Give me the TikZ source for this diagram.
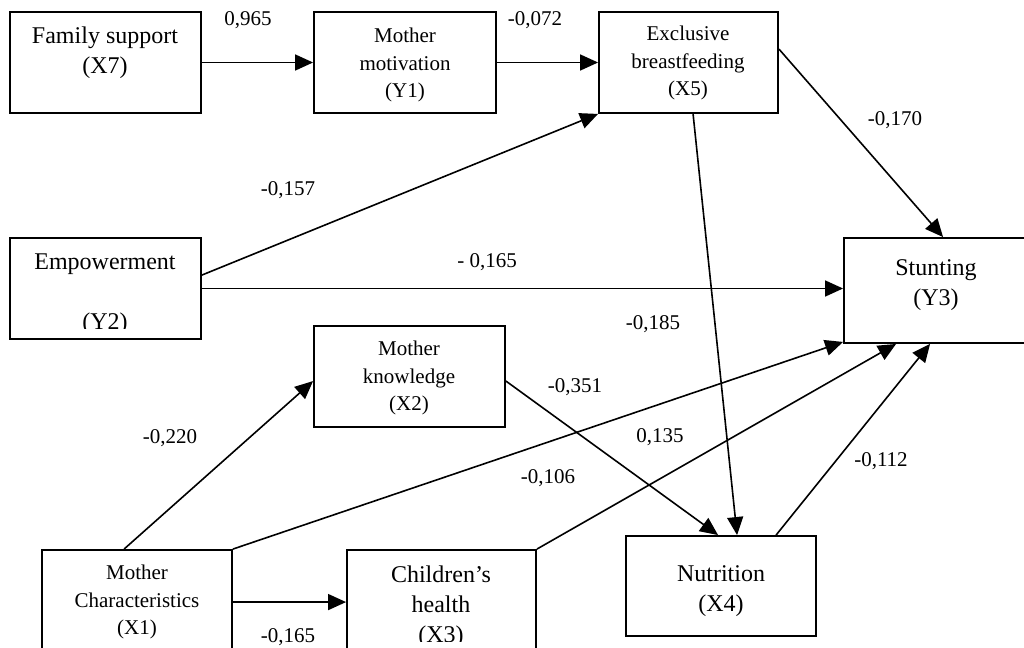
\documentclass[tikz,border=0pt]{standalone}
\usepackage{fontspec}
\setmainfont{Liberation Serif}
\usetikzlibrary{arrows.meta,calc,fit}
\begin{document}
\begin{tikzpicture}[x=0.75pt,y=-0.75pt,
  box/.style={draw,line width=1.4pt,rectangle,inner sep=0pt},
  big/.style={font=\fontsize{18}{22.5}\selectfont,align=center,inner sep=0pt},
  small/.style={font=\fontsize{15.75}{20.6}\selectfont,align=center,inner sep=0pt},
  lab/.style={font=\fontsize{15.75}{19}\selectfont,inner sep=0pt},
  conn/.style={line width=1.2pt,-{Triangle[length=13.5pt,width=12pt]}}]
\useasboundingbox (0,0) rectangle (1024,648);
% boxes
\node[box,fit={(10,12)(201,113)}] (fs) {};
\node[box,fit={(314,12)(496,113)}] (mm) {};
\node[box,fit={(599,12)(778,113)}] (eb) {};
\node[box,fit={(10,238)(201,339)}] (em) {};
\node[box,fit={(844,238)(1030,343)}] (st) {};
\node[box,fit={(314,326)(505,427)}] (mk) {};
\node[box,fit={(42,550)(232,665)}] (mc) {};
\node[box,fit={(347,550)(536,665)}] (ch) {};
\node[box,fit={(626,536)(816,636)}] (nu) {};
% texts
\node[big] (fst) at (105,53) {Family support\\(X7)};
\node[small] (mmt) at (405,65) {Mother\\motivation\\(Y1)};
\node[small] (ebt) at (688,63) {Exclusive\\breastfeeding\\(X5)};
\begin{scope}
  \clip (0,0) rectangle (1024,329);
  \node[big] (emt) at (105,294) {Empowerment\\[22.5pt](Y2)};
\end{scope}
\node[big] (stt) at (936,285) {Stunting\\(Y3)};
\node[small] (mkt) at (409,378) {Mother\\knowledge\\(X2)};
\node[small] (mct) at (137,602) {Mother\\Characteristics\\(X1)};
\begin{scope}
  \clip (0,0) rectangle (1024,641);
  \node[big] (cht) at (441,607) {Children’s\\health\\(X3)};
\end{scope}
\node[big] (nut) at (721,591) {Nutrition\\(X4)};
% connectors
\draw[conn] (fs.east) -- (mm.west);
\draw[conn] (mm.east) -- (eb.west);
\draw[conn] ($(em.north east)+(0,38)$) -- (eb.south west);
\draw[conn] (em.east) -- (em.east -| st.west);
\draw[conn] ($(eb.north east)+(0,38)$) -- ($(st.north west)+(100,0)$);
\draw[conn] ($(eb.south west)+(95,0)$) -- ($(nu.north west)+(112,0)$);
\draw[conn] ($(mk.north east)+(0,56)$) -- ($(nu.north west)+(93,0)$);
\draw[conn] ($(mc.north west)+(83,0)$) -- ($(mk.north west)+(0,56)$);
\draw[conn] (mc.north east) -- ($(st.south west)+(0,-2)$);
\draw[conn] (ch.north east) -- ($(st.south west)+(53,0)$);
\draw[conn] ($(nu.north west)+(151,0)$) -- ($(st.south west)+(87,0)$);
\draw[conn] ($(mc.north east)+(0,53)$) -- ($(ch.north west)+(0,53)$);
% labels
\node[lab] (l1) at (248,20) {0,965};
\node[lab] (l2) at (535,20) {-0,072};
\node[lab] (l3) at (288,190) {-0,157};
\node[lab] (l4) at (487,262) {- 0,165};
\node[lab] (l5) at (895,120) {-0,170};
\node[lab] (l6) at (653,324) {-0,185};
\node[lab] (l7) at (575,387) {-0,351};
\node[lab] (l8) at (170,438) {-0,220};
\node[lab] (l9) at (548,478) {-0,106};
\node[lab] (l10) at (660,437) {0,135};
\node[lab] (l11) at (881,461) {-0,112};
\node[lab] (l12) at (288,637) {-0,165};
\end{tikzpicture}
\end{document}
